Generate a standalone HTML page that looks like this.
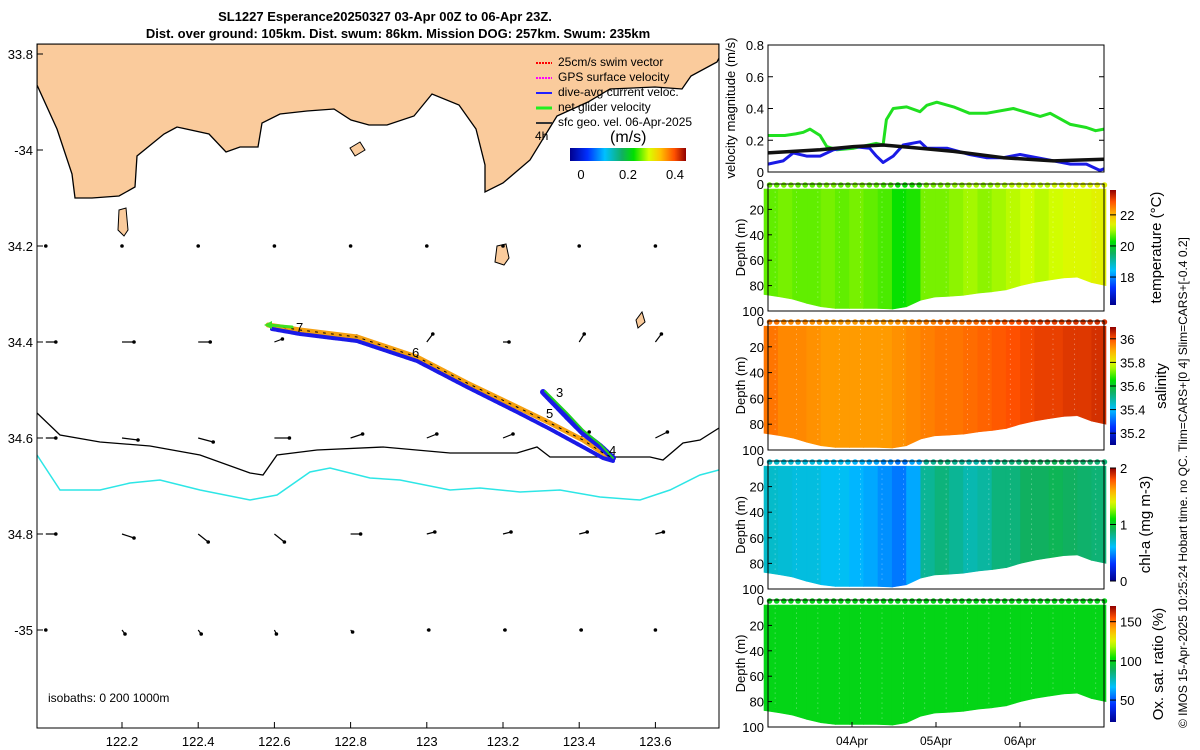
<!DOCTYPE html>
<html><head><meta charset="utf-8"><style>
body{margin:0;background:#fff}
svg{display:block;font-family:"Liberation Sans","DejaVu Sans",sans-serif}
</style></head><body>
<svg id="fig" width="1200" height="750" viewBox="0 0 1200 750">
<g font-weight="bold" font-size="13" text-anchor="middle">
<text x="385" y="21">SL1227 Esperance20250327 03-Apr 00Z to 06-Apr 23Z.</text>
<text x="398" y="38">Dist. over ground: 105km. Dist. swum: 86km. Mission DOG: 257km. Swum: 235km</text>
</g>
<defs>
<linearGradient id="jet" x1="0" x2="1" y1="0" y2="0">
<stop offset="0" stop-color="#00008f"/><stop offset="0.15" stop-color="#0030ff"/><stop offset="0.3" stop-color="#00c0ff"/><stop offset="0.45" stop-color="#10b060"/><stop offset="0.55" stop-color="#00e000"/><stop offset="0.68" stop-color="#d8ff00"/><stop offset="0.78" stop-color="#ffc000"/><stop offset="0.9" stop-color="#ff5000"/><stop offset="1" stop-color="#900000"/>
</linearGradient>
</defs>
<g id="map">
<rect x="37" y="44" width="682" height="684" fill="#fff"/>
<clipPath id="mc"><rect x="37" y="44" width="682" height="684"/></clipPath>
<g clip-path="url(#mc)">
<path fill="#facb9c" stroke="#000" stroke-width="1.3" d="M37,44 L37,85 L57,129 L72,174 L75,198 L92,198 L119,196 L135,187 L137,156 L164,134 L177,127 L209,134 L226,152 L240,147 L258,147 L262,123 L280,114 L307,111 L334,109 L351,120 L369,125 L387,125 L414,116 L432,94 L459,105 L476,129 L485,165 L485,192 L503,183 L530,160 L557,116 L588,102 L610,89 L655,87 L682,89 L691,76 L717,62 L719,58 L719,44 Z"/>
<path fill="#facb9c" stroke="#000" d="M119,210 L126,208 L128,230 L124,236 L118,230 Z"/>
<path fill="#facb9c" stroke="#000" d="M350,148 L360,142 L365,150 L355,156 Z"/>
<path fill="#facb9c" stroke="#000" d="M497,246 L506,244 L509,258 L504,265 L495,262 Z"/>
<path fill="#facb9c" stroke="#000" d="M636,320 L642,312 L645,322 L638,328 Z"/>
<path fill="none" stroke="#000" stroke-width="1.3" d="M37,413 L60,435 L100,442 L150,446 L200,455 L250,473 L263,475 L277,455 L317,450 L383,447 L450,453 L517,453 L537,447 L550,457 L600,457 L650,457 L663,460 L683,443 L700,440 L719,428"/>
<path fill="none" stroke="#2de6e6" stroke-width="1.5" d="M37,455 L60,490 L100,490 L130,483 L160,480 L200,490 L250,500 L277,495 L310,472 L330,468 L370,478 L400,480 L450,490 L480,488 L520,492 L560,490 L600,497 L640,500 L670,490 L700,475 L719,470"/>
<g id="vecs"></g>
<g fill="none" stroke-linecap="round">
<path d="M268,325 L300,330 L357,337 L417,357 L467,383 L517,407 L550,423 L583,440 L603,453 L613,458" stroke="#f5a010" stroke-width="5"/>
<path d="M272,329 L300,334 L357,341 L417,361 L467,387 L517,412 L550,429 L583,447 L603,458 L613,461" stroke="#1a1ae6" stroke-width="4" stroke-dasharray="3 1"/>
<path d="M613,458 L600,446 L583,433 L567,417 L543,392" stroke="#1a1ae6" stroke-width="6" stroke-dasharray="3 1"/>
<path d="M613,458 L600,444 L583,430 L567,413 L545,391" stroke="#20d020" stroke-width="2"/>
<path d="M268,325 L300,330 L357,337 L417,357 L467,383 L517,407 L550,423 L583,440 L603,453 L613,458" stroke="#000" stroke-width="1" stroke-dasharray="2 6"/>
<path d="M268,325 L292,327" stroke="#40e020" stroke-width="3"/>
<polygon points="264,325 272,321 272,329" fill="#40e020" stroke="none"/>
</g>
<g font-size="13">
<text x="296" y="332">7</text><text x="412" y="357">6</text><text x="556" y="397">3</text><text x="546" y="418">5</text><text x="609" y="455">4</text>
</g>
<g font-size="12">
<text x="558" y="66">25cm/s swim vector</text><line x1="536" y1="63" x2="552" y2="63" stroke="#f00" stroke-width="2" stroke-dasharray="2 1"/>
<text x="558" y="81">GPS surface velocity</text><line x1="536" y1="78" x2="552" y2="78" stroke="#f0f" stroke-width="2" stroke-dasharray="2 1"/>
<text x="558" y="96">dive-avg current veloc.</text><line x1="536" y1="93" x2="552" y2="93" stroke="#2020ff" stroke-width="2"/>
<text x="558" y="111">net glider velocity</text><line x1="536" y1="108" x2="552" y2="108" stroke="#20f020" stroke-width="3"/>
<text x="558" y="126">sfc geo. vel. 06-Apr-2025</text><line x1="536" y1="123" x2="552" y2="123" stroke="#333" stroke-width="2"/>
<text x="535" y="140">4h</text>
<text x="610" y="142" font-size="16">(m/s)</text>
</g>
<rect x="570" y="148" width="116" height="13" fill="url(#jet)"/>
<g font-size="13" text-anchor="middle"><text x="581" y="179">0</text><text x="628" y="179">0.2</text><text x="675" y="179">0.4</text></g>
<text x="48" y="702" font-size="12">isobaths: 0   200  1000m</text>
</g>
<rect x="37" y="44" width="682" height="684" fill="none" stroke="#000"/>
<g id="mapticks" font-size="13"></g>
</g>
<g id="right"></g>
<text transform="translate(1187,728) rotate(-90)" font-size="12">© IMOS 15-Apr-2025 10:25:24 Hobart time. no QC. Tlim=CARS+[0 4] Slim=CARS+[-0.4 0.2]</text>
</svg>
<script>
const NS="http://www.w3.org/2000/svg";
function el(t,a,p){const e=document.createElementNS(NS,t);for(const k in a)e.setAttribute(k,a[k]);p.appendChild(e);return e;}
// ---- map axes ----
const lonTicks=[122.2,122.4,122.6,122.8,123,123.2,123.4,123.6];
const lonLabels=["122.2","122.4","122.6","122.8","123","123.2","123.4","123.6"];
const latTicks=[-33.8,-34,-34.2,-34.4,-34.6,-34.8,-35];
const latLabels=["33.8","-34","34.2","34.4","34.6","34.8","-35"];
const lonX=v=>122+(v-122.2)*381;
const latY=v=>54+(-33.8-v)*480;
const mt=document.getElementById('mapticks');
lonTicks.forEach((v,i)=>{const x=lonX(v);const l=el('line',{x1:x,x2:x,y1:728,y2:722,stroke:'#000'},mt);

const t=el('text',{x:x,y:746,'text-anchor':'middle'},mt);t.textContent=lonLabels[i];
});
latTicks.forEach((v,i)=>{const y=latY(v);const l=el('line',{x1:37,x2:43,y1:y,y2:y,stroke:'#000'},mt);

const t=el('text',{x:33,y:y+5,'text-anchor':'end'},mt);t.textContent=latLabels[i];
});
// geostrophic vectors
const vecLon=[122.0,122.2,122.4,122.6,122.8,123.0,123.2,123.4,123.6];
const vecLat=[-34.2,-34.4,-34.6,-34.8,-35.0];
const vecU=[[0,0,0,0,0,0,0,0,0],[0.1,0.12,0.12,0.08,0.06,0.06,0.06,0.05,0.06],[0.1,0.16,0.15,0.15,0.12,0.1,0.1,0.1,0.12],[0.1,0.12,0.1,0.1,0.1,0.08,0.08,0.08,0.08],[0,0.03,0.03,0.02,0.02,0.02,0.02,0.02,0]];
const vecV=[[0,0,0,0,0,0,0,0,0],[0,0,0,0.03,0.06,0.08,0,0.08,0.08],[0,-0.02,-0.04,0,0.04,0.04,0.04,0.06,0.06],[0,-0.04,-0.08,-0.08,0,0.02,0.02,0.02,0.02],[0,-0.04,-0.04,-0.04,-0.02,0,0,0,0]];
const vg=document.getElementById('vecs');
vecLat.forEach((la,j)=>vecLon.forEach((lo,i)=>{
 const x=lonX(lo),y=latY(la),dx=vecU[j][i]*100,dy=-vecV[j][i]*100;
 const l=el('line',{x1:x,y1:y,x2:x+dx,y2:y+dy,stroke:'#000','stroke-width':1.2},vg);
 
 const c=el('circle',{cx:x+dx,cy:y+dy,r:1.8,fill:'#000'},vg);
 
}));
// ---- right panels ----
const R=document.getElementById('right');
const X0=768,X1=1104,DAY=84;
const tx=d=>X0+d*DAY;
const netDays=[0,0.2,0.33,0.42,0.5,0.62,0.7,0.82,1.02,1.29,1.37,1.41,1.49,1.65,1.81,1.89,2.01,2.21,2.4,2.6,2.92,3.24,3.36,3.6,3.79,3.9,4];
const netVel=[0.23,0.23,0.24,0.25,0.27,0.23,0.16,0.14,0.15,0.18,0.17,0.33,0.40,0.41,0.38,0.42,0.44,0.41,0.37,0.37,0.40,0.35,0.37,0.30,0.28,0.26,0.27];
const davDays=[0,0.18,0.3,0.46,0.62,0.78,1.02,1.21,1.29,1.37,1.49,1.61,1.81,1.89,2.13,2.4,2.6,2.8,3.0,3.4,3.6,3.79,3.95,4];
const davVel=[0.05,0.07,0.12,0.10,0.10,0.14,0.16,0.15,0.10,0.06,0.10,0.17,0.19,0.15,0.15,0.11,0.09,0.09,0.11,0.07,0.05,0.05,0.01,0.02];
const geoDays=[0,0.62,1.02,1.37,1.81,2.21,2.8,3.4,4];
const geoVel=[0.12,0.14,0.16,0.17,0.15,0.13,0.09,0.07,0.08];
const velTicks=[0,0.2,0.4,0.6,0.8];
const VT=45,VB=172;
const vy=v=>VB-v*(VB-VT)/0.8;
function frame(top,bot,name){const r=el('rect',{x:X0,y:top,width:X1-X0,height:bot-top,fill:'none',stroke:'#000'},R);
}
function line(days,vals,col,w,name){const d=days.map((t,i)=>(i?'L':'M')+tx(t).toFixed(1)+','+vy(vals[i]).toFixed(1)).join(' ');
const p=el('path',{d:d,fill:'none',stroke:col,'stroke-width':w,'stroke-linejoin':'round'},R);
}
line(netDays,netVel,'#20e020',3,'net-velocity-line');
line(davDays,davVel,'#1a1ae6',3,'dive-avg-current-line');
line(geoDays,geoVel,'#111',3.5,'geostrophic-velocity-line');
frame(VT,VB,'velocity-axes');
velTicks.forEach(v=>{const y=vy(v);el('line',{x1:X0,x2:X0+5,y1:y,y2:y,stroke:'#000'},R);el('line',{x1:X1,x2:X1-5,y1:y,y2:y,stroke:'#000'},R);
const t=el('text',{x:X0-4,y:y+5,'text-anchor':'end','font-size':13},R);t.textContent=v===0?'0':v.toFixed(1);
});
const yl=el('text',{transform:'translate(735,108) rotate(-90)','text-anchor':'middle','font-size':13},R);yl.textContent='velocity magnitude (m/s)';

// section data
const bottomDays=[0,0.3,0.6,0.8,1.0,1.4,1.6,1.8,2.0,2.3,2.5,2.8,3.0,3.2,3.5,3.8,3.85,4];
const bottomDepth=[87,90,96,98,98,98,99,92,89,88,86,84,80,77,74,73,80,80];
const tempVals=[20.7,20.8,20.7,20.7,20.8,20.7,20.8,20.7,20.6,20.3,20.4,20.8,20.8,20.9,21.0,20.9,21.0,21.1,21.2,21.1,21.2,21.3,21.3,21.4];
const salVals=[35.96,35.94,35.94,35.93,35.92,35.92,35.92,35.92,35.92,35.93,35.94,35.95,35.96,35.96,35.97,35.98,35.99,36.0,36.01,36.02,36.02,36.03,36.03,36.04];
const chlVals=[0.7,0.68,0.66,0.66,0.62,0.62,0.58,0.55,0.5,0.45,0.55,0.8,0.85,0.8,0.75,0.78,0.85,0.85,0.9,0.9,0.92,0.9,0.88,0.86];
const oxyVals=[100,100,100,100,100,100,100,100,100,100,100,100,100,100,100,100,100,100,100,100,100,100,100,100];
const cmPos=[0,0.15,0.3,0.45,0.55,0.68,0.78,0.9,1];
const cmCol=[[0,0,143],[0,48,255],[0,192,255],[16,176,96],[0,224,0],[216,255,0],[255,192,0],[255,80,0],[144,0,0]];
function jet(t){t=Math.max(0,Math.min(1,t));let i=1;while(i<cmPos.length-1&&t>cmPos[i])i++;
const f=(t-cmPos[i-1])/(cmPos[i]-cmPos[i-1]);const a=cmCol[i-1],b=cmCol[i];
return `rgb(${a.map((v,k)=>Math.round(v+f*(b[k]-v))).join(',')})`;}
function bottomAt(d){for(let i=1;i<bottomDays.length;i++)if(d<=bottomDays[i]){const f=(d-bottomDays[i-1])/(bottomDays[i]-bottomDays[i-1]);return bottomDepth[i-1]+f*(bottomDepth[i]-bottomDepth[i-1]);}return bottomDepth[bottomDepth.length-1];}
function section(top,bot,vals,vmin,vmax,cbTop,cbBot,cbTicks,cbLabels,label,lx,name){
 const dy=d=>top+d*(bot-top)/100;const n=vals.length,w=(X1-X0+6)/n;
 const g=el('g',{},R);
 vals.forEach((v,i)=>{const d0=i*4/n,d1=(i+1)*4/n;const col=jet((v-vmin)/(vmax-vmin));
  const pts=[[X0-4+i*w,dy(4)],[X0-4+(i+1)*w,dy(4)],[X0-4+(i+1)*w,dy(bottomAt(d1))],[X0-4+i*w,dy(bottomAt(d0))]];
  const p=el('polygon',{points:pts.map(q=>q.join(',')).join(' '),fill:col,stroke:col,'stroke-width':0.6},g);
  
  for(let k=0;k<2;k++){const c=el('circle',{cx:X0-2+(i+k/2+0.25)*w,cy:top+1,r:2.8,fill:col},g);
  }
 });
 for(let i=1;i<n*2;i+=3){const x=X0+i*w/2;el('line',{x1:x,x2:x,y1:dy(6),y2:dy(bottomAt(i*2/n)-3),stroke:'#fff','stroke-width':0.7,'stroke-dasharray':'1 4',opacity:0.6},g);}
 frame(top,bot,name+'-axes');
 [0,20,40,60,80,100].forEach(d=>{const y=dy(d);el('line',{x1:X0,x2:X0+4,y1:y,y2:y,stroke:'#000'},R);
  const t=el('text',{x:X0-4,y:y+5,'text-anchor':'end','font-size':13},R);t.textContent=d;
  });
 const yt=el('text',{transform:`translate(745,${(top+bot)/2}) rotate(-90)`,'text-anchor':'middle','font-size':13},R);yt.textContent='Depth (m)';
 
 const id='g'+name;const lg=el('linearGradient',{id:id,x1:0,x2:0,y1:1,y2:0},R);
 for(let s=0;s<=20;s++)el('stop',{offset:s/20,'stop-color':jet(s/20)},lg);
 const cb=el('rect',{x:1110,y:cbTop,width:6,height:cbBot-cbTop,fill:`url(#${id})`},R);
 
 cbTicks.forEach((v,i)=>{const y=cbBot-(v-vmin)/(vmax-vmin)*(cbBot-cbTop);el('line',{x1:1110,x2:1116,y1:y,y2:y,stroke:'#000'},R);
  const t=el('text',{x:1120,y:y+5,'font-size':13},R);t.textContent=cbLabels[i];
  });
 const lt=el('text',{transform:`translate(${lx},${(cbTop+cbBot)/2}) rotate(-90)`,'text-anchor':'middle','font-size':15},R);lt.textContent=label;
 
}
section(184,311,tempVals,16.2,23.6,190,305,[18,20,22],['18','20','22'],'temperature (°C)',1161,'temperature-section');
section(321,450,salVals,35.1,36.1,327,445,[35.2,35.4,35.6,35.8,36],['35.2','35.4','35.6','35.8','36'],'salinity',1166,'salinity-section');
section(461,589,chlVals,0,2,468,581,[0,1,2],['0','1','2'],'chl-a (mg m-3)',1150,'chla-section');
section(600,727,oxyVals,22,170,606,722,[50,100,150],['50','100','150'],'Ox. sat. ratio (%)',1163,'oxygen-section');
const dateDays=[1,2,3];const dateLabels=['04Apr','05Apr','06Apr'];
dateDays.forEach((d,i)=>{const x=tx(d);el('line',{x1:x,x2:x,y1:727,y2:722,stroke:'#000'},R);
 const t=el('text',{x:x,y:745,'text-anchor':'middle','font-size':12},R);t.textContent=dateLabels[i];
 });
</script>
</body></html>
